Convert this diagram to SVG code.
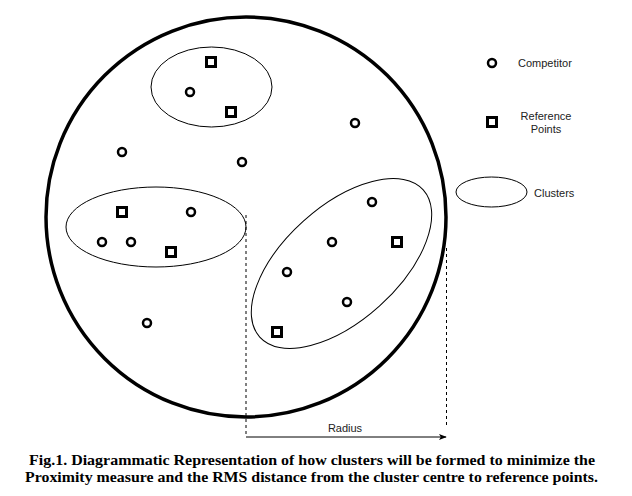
<svg xmlns="http://www.w3.org/2000/svg" width="632" height="496" viewBox="0 0 632 496">
<style>
.comp{fill:#fff;stroke:#000;stroke-width:2.5}
.ref{fill:#fff;stroke:#000;stroke-width:3}
.clu{fill:none;stroke:#000;stroke-width:1}
.lbl{font-family:"Liberation Sans",Arial,sans-serif;font-size:11px;fill:#222}
.cap{font-family:"Liberation Serif","Times New Roman",serif;font-size:15px;font-weight:bold;fill:#000}
.dash{stroke:#000;stroke-width:1;stroke-dasharray:3,3;fill:none}
</style>
<defs>
<marker id="arr" viewBox="0 0 10 10" refX="9" refY="5" markerWidth="8" markerHeight="8" orient="auto" markerUnits="userSpaceOnUse">
<path d="M0,1 L10,5 L0,9 L2.5,5 Z" fill="#000"/>
</marker>
</defs>
<rect width="632" height="496" fill="#fff"/>
<g id="big-circle"><circle cx="246" cy="217" r="200" fill="none" stroke="#000" stroke-width="3.5"/></g>
<g id="cluster-top">
<ellipse class="clu" cx="211.5" cy="87" rx="60.5" ry="40"/>
<rect class="ref" x="206.5" y="57.5" width="9" height="9"/>
<rect class="ref" x="226.5" y="107.5" width="9" height="9"/>
<circle class="comp" cx="190" cy="92" r="4"/>
</g>
<g id="cluster-left">
<ellipse class="clu" cx="156" cy="227" rx="90" ry="40"/>
<rect class="ref" x="117.5" y="207.5" width="9" height="9"/>
<circle class="comp" cx="191" cy="212" r="4"/>
<circle class="comp" cx="102" cy="242" r="4"/>
<circle class="comp" cx="131" cy="242" r="4"/>
<rect class="ref" x="166.5" y="247.5" width="9" height="9"/>
</g>
<g id="cluster-right">
<ellipse class="clu" cx="341.5" cy="263.5" rx="110" ry="57" transform="rotate(-42 341.5 263.5)"/>
<circle class="comp" cx="372" cy="202" r="4"/>
<circle class="comp" cx="332" cy="242" r="4"/>
<rect class="ref" x="392.5" y="237.5" width="9" height="9"/>
<circle class="comp" cx="287" cy="272" r="4"/>
<circle class="comp" cx="347" cy="302" r="4"/>
<rect class="ref" x="272.5" y="327.5" width="9" height="9"/>
</g>
<g id="free-points">
<circle class="comp" cx="122" cy="152" r="4"/>
<circle class="comp" cx="242" cy="162" r="4"/>
<circle class="comp" cx="355" cy="123" r="4"/>
<circle class="comp" cx="147" cy="323" r="4"/>
</g>
<g id="connectors">
<line class="dash" x1="246" y1="215" x2="246" y2="437"/>
<line class="dash" x1="446.5" y1="248" x2="446.5" y2="425"/>
<line x1="246" y1="437" x2="446" y2="437" stroke="#000" stroke-width="1" marker-end="url(#arr)"/>
<text class="lbl" x="345" y="432" text-anchor="middle">Radius</text>
</g>
<g id="legend-competitor">
<circle class="comp" cx="492" cy="63" r="4"/>
<text class="lbl" x="518" y="67">Competitor</text>
</g>
<g id="legend-reference">
<rect class="ref" x="487.5" y="117.5" width="9" height="9"/>
<text class="lbl" x="546" y="120" text-anchor="middle">Reference</text>
<text class="lbl" x="546" y="133" text-anchor="middle">Points</text>
</g>
<g id="legend-clusters">
<ellipse class="clu" cx="491.5" cy="192" rx="35.5" ry="15"/>
<text class="lbl" x="534" y="197">Clusters</text>
</g>
<g id="caption">
<text class="cap" x="29" y="465" textLength="566" lengthAdjust="spacingAndGlyphs">Fig.1. Diagrammatic Representation of how clusters will be formed to minimize the</text>
<text class="cap" x="25" y="482" textLength="573" lengthAdjust="spacingAndGlyphs">Proximity measure and the RMS distance from the cluster centre to reference points.</text>
</g>
</svg>
